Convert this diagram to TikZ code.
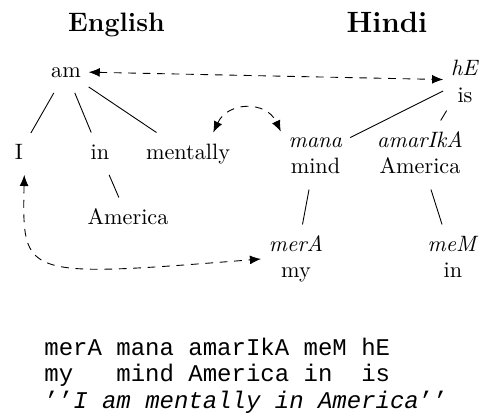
\documentclass[tikz,border=0pt]{standalone}
\usepackage{fontspec}
\setmonofont{Liberation Mono}
\usetikzlibrary{arrows.meta}
\begin{document}
\begin{tikzpicture}[x=0.45pt,y=0.45pt,
  word/.style={inner sep=3.33pt, font=\fontsize{10}{12}\selectfont},
  pair/.style={word, align=center},
  tip/.tip={Latex[length=5pt,width=4pt]},
  edge/.style={line width=0.4pt},
  link/.style={line width=0.4pt, dash pattern=on 3.5pt off 3pt, tip-tip},
  mono/.style={anchor=base west, inner sep=0pt, font=\fontsize{10.8}{12}\selectfont\ttfamily}]
\useasboundingbox (0,0) rectangle (480,416);
% headings
\node[anchor=base, inner sep=0pt, font=\fontsize{12}{14}\selectfont\bfseries] (english) at (116.5,384) {English};
\node[anchor=base, inner sep=0pt, font=\fontsize{13.2}{15}\selectfont\bfseries] (hindi) at (387,383) {Hindi};
% English tree
\node[word] (am) at (66,344.3) {\strut am};
\node[word] (I) at (19,262.3) {\strut I};
\node[word] (in) at (100,262.3) {\strut in};
\node[word] (mentally) at (188,262.3) {\strut mentally};
\node[word] (americaE) at (128,197.3) {\strut America};
% Hindi tree
\node[pair] (hE) at (465,336) {\strut\textit{hE}\\is};
\node[pair] (mana) at (315.5,261) {\strut\textit{mana}\\mind\strut};
\node[pair] (amarIkA) at (420,261) {\strut\textit{amarIkA}\\America\strut};
\node[pair] (merA) at (296,157) {\strut\textit{merA}\\my\strut};
\node[pair] (meM) at (453,157) {\strut\textit{meM}\\in\strut};
% tree edges
\draw[edge] (am) -- (I);
\draw[edge] (am) -- (in);
\draw[edge] (am) -- (mentally);
\draw[edge] (in) -- (americaE);
\draw[edge] (hE) -- (mana);
\draw[edge] (hE) -- (amarIkA);
\draw[edge] (mana) -- (merA);
\draw[edge] (amarIkA) -- (meM);
% alignment links
\draw[link] (am) -- (hE);
\draw[link] (mentally.40) to[out=65,in=115,looseness=1.3] (mana.146);
\draw[link] (I.-76) .. controls +(-2,-103) and +(-240,-19) .. (merA.west);
% gloss
\node[mono] (g1) at (44,61) {merA mana amarIkA meM hE};
\node[mono] (g2) at (44,34.5) {my\ \ \ mind America in\ \ is};
\node[mono] (g3) at (44,8) {’’\textit{I am mentally in America}’’};
\end{tikzpicture}
\end{document}
